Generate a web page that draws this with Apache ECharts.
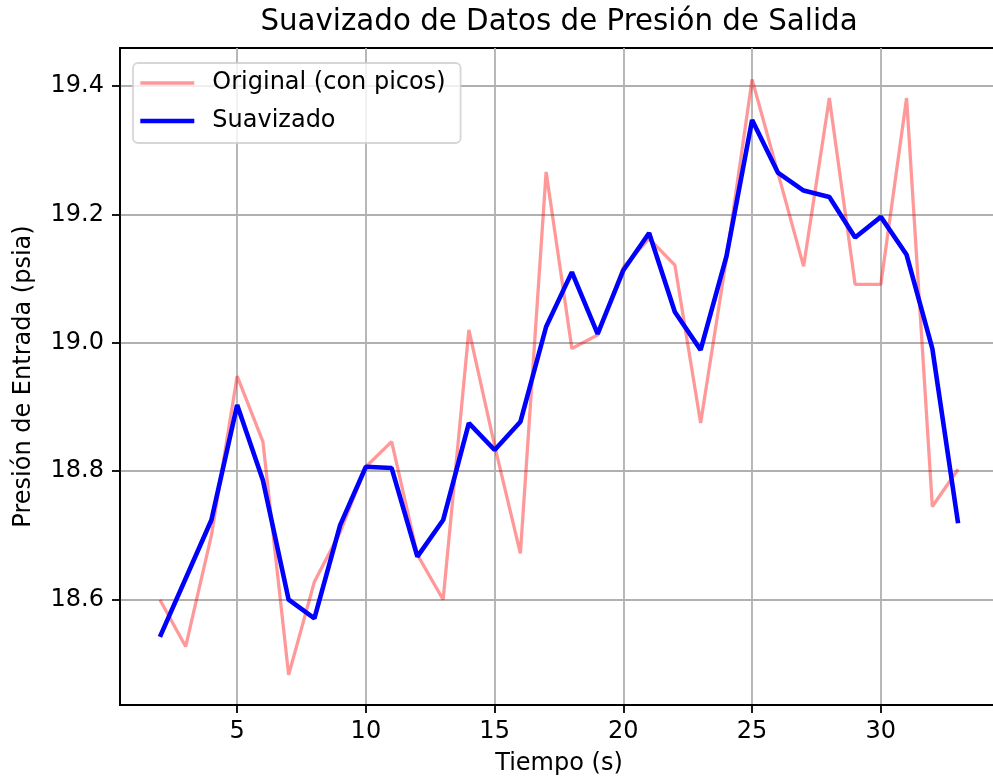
<!DOCTYPE html>
<html>
<head>
<meta charset="utf-8">
<script src="https://cdn.jsdelivr.net/npm/echarts@6/dist/echarts.min.js"></script>
<style>
html,body{margin:0;padding:0;background:#fff;overflow:hidden;width:993px;height:783px;}
#chart{width:1010px;height:783px;}
</style>
</head>
<body>
<div id="chart"></div>
<script>
const times = [2,3,4,5,6,7,8,9,10,11,12,13,14,15,16,17,18,19,20,21,22,23,24,25,26,27,28,29,30,31,32,33];
const original = [18.600,18.527,18.700,18.948,18.846,18.483,18.628,18.705,18.807,18.846,18.670,18.600,19.020,18.840,18.672,19.266,18.991,19.012,19.118,19.162,19.121,18.875,19.130,19.410,19.265,19.119,19.381,19.091,19.091,19.381,18.745,18.803];
const smoothed = [18.542,18.633,18.724,18.903,18.786,18.600,18.571,18.716,18.807,18.805,18.667,18.724,18.875,18.833,18.877,19.025,19.110,19.014,19.113,19.171,19.048,18.989,19.134,19.347,19.265,19.237,19.227,19.164,19.196,19.137,18.991,18.719];
const xTicks = [5,10,15,20,25,30];
const yTicks = [18.6,18.8,19.0,19.2,19.4];
const seriesNames = ['Original (con picos)','Suavizado'];

const FONT = 'DejaVu Sans';
const PINK = 'rgba(255,0,0,0.4)';
const BLUE = '#0000ff';
const chart = echarts.init(document.getElementById('chart'), null, {renderer:'canvas'});
const pairs = (ys) => times.map((t,i)=>[t, ys[i]]);

chart.setOption({
  animation:false,
  backgroundColor:'#fff',
  title:{
    text:'Suavizado de Datos de Presión de Salida',
    left:559, top:8, padding:0, textAlign:'center',
    textStyle:{fontFamily:FONT, fontSize:29.3, fontWeight:'normal', color:'#000'}
  },
  grid:{
    left:120, top:48, width:878, height:657,
    outerBoundsMode:'none',
    show:true, borderColor:'#000', borderWidth:1.8, backgroundColor:'transparent',
    containLabel:false
  },
  legend:{
    orient:'vertical', left:133, top:63,
    padding:[8,15,10,5],
    itemWidth:54, itemHeight:14, itemGap:14,
    itemStyle:{opacity:0},
    backgroundColor:'rgba(255,255,255,0.8)',
    borderColor:'rgba(204,204,204,0.8)', borderWidth:1.8, borderRadius:5,
    textStyle:{fontFamily:FONT, fontSize:24, color:'#000', lineHeight:24, padding:[0,0,0,13]},
    data:[
      {name:seriesNames[0], lineStyle:{color:PINK, width:3.3}, itemStyle:{opacity:0}},
      {name:seriesNames[1], lineStyle:{color:BLUE, width:4.6}, itemStyle:{opacity:0}}
    ]
  },
  xAxis:{
    type:'value', min:0.45, max:34.55, position:'bottom',
    name:'Tiempo (s)', nameLocation:'middle', nameGap:47,
    nameTextStyle:{fontFamily:FONT, fontSize:24, color:'#000'},
    axisLine:{show:true, onZero:false, lineStyle:{color:'#000', width:1.8}},
    axisTick:{show:true, inside:false, length:8, lineStyle:{color:'#000', width:1.8}, customValues:xTicks},
    axisLabel:{fontFamily:FONT, fontSize:24, color:'#000', margin:15, customValues:xTicks, formatter:v=>String(v)},
    splitLine:{show:true, lineStyle:{color:'#b0b0b0', width:1.8}}
  },
  yAxis:{
    type:'value', min:18.436, max:19.459,
    name:'Presión de Entrada (psia)', nameLocation:'middle', nameGap:84,
    nameTextStyle:{fontFamily:FONT, fontSize:24, color:'#000'},
    axisLine:{show:true, onZero:false, lineStyle:{color:'#000', width:1.8}},
    axisTick:{show:true, inside:false, length:8, lineStyle:{color:'#000', width:1.8}, customValues:yTicks},
    axisLabel:{fontFamily:FONT, fontSize:24, color:'#000', margin:16, customValues:yTicks, formatter:v=>Number(v).toFixed(1)},
    splitLine:{show:true, lineStyle:{color:'#b0b0b0', width:1.8}}
  },
  series:[
    {
      name:seriesNames[0], type:'line', data:pairs(original),
      symbol:'none', showSymbol:false, z:2,
      lineStyle:{color:PINK, width:3.3},
      itemStyle:{color:PINK}
    },
    {
      name:seriesNames[1], type:'line', data:pairs(smoothed),
      symbol:'none', showSymbol:false, z:3,
      lineStyle:{color:BLUE, width:4.6},
      itemStyle:{color:BLUE}
    }
  ]
});
</script>
</body>
</html>
